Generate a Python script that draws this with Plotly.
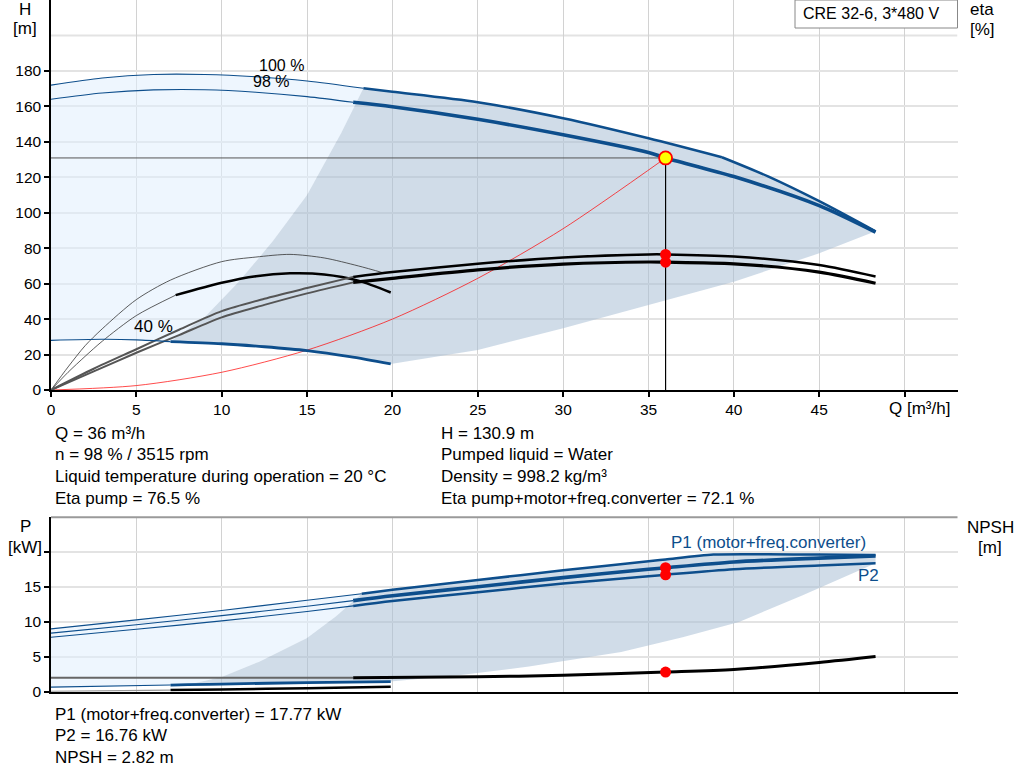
import plotly.graph_objects as go

# ---- data ----
# head curves [m]
q_h100 = [0, 3, 6, 9, 12, 15, 18.3, 20, 25, 30, 35, 39.3, 42, 45, 48.3]
h_h100 = [172, 176, 178, 178, 176.7, 174.3, 170.2, 168.2, 162.3, 153.3, 142, 131.3, 120.5, 106.5, 89.5]
q_h98 = [0, 3, 6, 9, 12, 15, 17.7, 20, 25, 30, 35, 36, 40, 45, 48.3]
h_h98 = [164, 167.5, 169.3, 169.4, 168, 165.5, 162.3, 159.8, 152.7, 144, 134, 130.9, 120.4, 104, 89]
q_h40 = [0, 3, 5, 7, 10, 12.5, 15, 17.5, 19.9]
h_h40 = [28, 28.6, 28.3, 27.3, 26.1, 24.4, 22.2, 18.8, 14.7]

# efficiency curves [%]
q_eta = [0, 2.5, 5, 7.5, 10, 12.5, 15, 17.7, 20, 25, 30, 35, 36, 40, 45, 48.3]
eta_pump98 = [0, 12, 23, 34, 44.5, 51.5, 57.5, 63.8, 66.5, 71.2, 74.8, 76.5, 76.5, 75.3, 70.5, 64]
eta_tot98 = [0, 10.5, 21, 31, 41, 48, 54.5, 60.7, 63, 67.8, 71, 72.2, 72.1, 71.2, 66.5, 60.2]
q_eta40p = [0, 1, 2, 3, 5, 7, 10, 12, 14, 16, 18, 19.5]
eta_pump40 = [0, 13, 25, 34.5, 51, 62, 72.4, 75, 76.5, 74.5, 70, 66]
q_eta40t = [0, 1, 2, 3, 5, 7.3, 10, 12, 14, 16, 18, 19.9]
eta_tot40 = [0, 10, 19, 27.5, 42, 53.5, 60.5, 64.2, 65.8, 65.2, 61.7, 55]

# system curve through duty point
q_sys = [0, 5, 10, 15, 20, 25, 30, 36]
h_sys = [0, 2.5, 10, 22.5, 40, 63, 91, 130.9]

# operating range boundaries (head chart)
q_left = [7, 9, 11, 13, 15, 17, 18.3]
h_left = [27.3, 41, 61, 84, 110, 145, 170.2]
q_low = [19.9, 25, 30, 35, 40, 45, 48.3]
h_low = [14.7, 22.6, 34.8, 48, 61.1, 77.1, 89.5]

# power curves [kW]
q_p100 = [0, 5, 10, 15, 18.2, 20, 25, 30, 35, 36, 38.8, 42, 45, 48.3]
p1_100 = [9.0, 10.3, 11.65, 13.1, 14.05, 14.6, 16.0, 17.4, 18.7, 18.95, 19.65, 19.7, 19.65, 19.6]
q_p98 = [0, 5, 10, 15, 17.7, 20, 25, 30, 35, 36, 40, 45, 48.3]
p1_98 = [8.4, 9.6, 10.9, 12.25, 13.05, 13.75, 15.05, 16.35, 17.55, 17.77, 18.6, 19.15, 19.45]
p2_98 = [7.8, 8.95, 10.15, 11.5, 12.3, 13.0, 14.25, 15.5, 16.55, 16.76, 17.55, 18.1, 18.4]
q_p40 = [0, 7, 8, 10, 15, 19.9]
p_40 = [0.65, 0.95, 1.0, 1.1, 1.3, 1.45]

# NPSH [m]
q_npsh = [0, 17.7, 25, 30, 36, 40, 45, 48.3]
npsh = [2.0, 2.0, 2.15, 2.35, 2.82, 3.2, 4.2, 5.05]
q_npsh40 = [0, 7, 10, 15, 19.9]
npsh40 = [0.05, 0.24, 0.33, 0.5, 0.72]

# operating range boundaries (power chart)
q_pleft = [8, 10, 12.2, 15, 16.7, 18.2]
p_left = [1.0, 2.1, 4.3, 7.7, 10.8, 14.05]
q_plow = [19.9, 24, 28, 33.4, 37, 40.3, 44, 48.3]
p_low = [1.45, 2.4, 3.6, 5.7, 7.8, 10.0, 13.8, 18.4]

# duty point
q_op = 36
h_op = 130.9
eta_op = [76.5, 72.1]
p_op = [17.77, 16.76]
npsh_op = 2.82

info_left = ["Q = 36 m³/h", "n = 98 % / 3515 rpm",
             "Liquid temperature during operation = 20 °C", "Eta pump = 76.5 %"]
info_right = ["H = 130.9 m", "Pumped liquid = Water",
              "Density = 998.2 kg/m³", "Eta pump+motor+freq.converter = 72.1 %"]
info_bottom = ["P1 (motor+freq.converter) = 17.77 kW", "P2 = 16.76 kW", "NPSH = 2.82 m"]

BLUE = "#0d4e8c"
LIGHT = "rgba(224,239,253,0.55)"
GREY = "rgba(170,191,213,0.55)"
FONT = "Liberation Sans, Arial, sans-serif"
TXT = 17
W, H = 1024, 781
X0, X1 = 51 / W, 957.5 / W
XMAX = 53.1


def part(q, v, lo, hi):
    qq, vv = [], []
    for a, b in zip(q, v):
        if lo <= a <= hi:
            qq.append(a)
            vv.append(b)
    return qq, vv


def rev(lst):
    return list(reversed(lst))


fig = go.Figure()


def line(q, v, color, width, xa="x", ya="y", shape="spline"):
    fig.add_trace(go.Scatter(x=q, y=v, mode="lines", xaxis=xa, yaxis=ya,
                             line=dict(color=color, width=width, shape=shape, smoothing=0.8),
                             hoverinfo="skip", showlegend=False))


def area(q, v, color, xa="x", ya="y"):
    fig.add_trace(go.Scatter(x=q, y=v, mode="lines", fill="toself", fillcolor=color,
                             line=dict(width=0), xaxis=xa, yaxis=ya,
                             hoverinfo="skip", showlegend=False))


# ---- head chart ----
a_q, a_h = part(q_h100, h_h100, 0, 18.3)
b_q, b_h = part(q_h40, h_h40, 0, 7)
area(a_q + rev(q_left) + rev(b_q), a_h + rev(h_left) + rev(b_h), LIGHT)
c_q, c_h = part(q_h100, h_h100, 18.3, 50)
d_q, d_h = part(q_h40, h_h40, 7, 20)
area(q_left + c_q + rev(q_low) + rev(d_q), h_left + c_h + rev(h_low) + rev(d_h), GREY)

line([0, q_op], [h_op, h_op], "#555555", 1, shape="linear")
line([q_op, q_op], [0, h_op], "black", 1.2, shape="linear")
line(q_sys, h_sys, "rgba(255,0,0,0.7)", 1)

line(*part(q_eta40p, eta_pump40, 0, 20), "#333333", 0.8)
line(*part(q_eta40t, eta_tot40, 0, 7.3), "#333333", 0.8)
line(*part(q_eta40t, eta_tot40, 7.3, 20), "black", 2.5)
line(*part(q_eta, eta_pump98, 0, 17.7), "#555555", 2)
line(*part(q_eta, eta_tot98, 0, 17.7), "#555555", 2)
line(*part(q_eta, eta_pump98, 17.7, 50), "black", 2.5)
line(*part(q_eta, eta_tot98, 17.7, 50), "black", 3.2)

line(*part(q_h100, h_h100, 0, 18.3), BLUE, 1.1)
line(*part(q_h100, h_h100, 18.3, 39.3), BLUE, 2.5)
line(*part(q_h100, h_h100, 39.3, 50), BLUE, 2.5)
line(*part(q_h98, h_h98, 0, 17.7), BLUE, 1.1)
line(*part(q_h98, h_h98, 17.7, 50), BLUE, 3.6)
line(*part(q_h40, h_h40, 0, 7), BLUE, 1.1)
line(*part(q_h40, h_h40, 7, 20), BLUE, 2.8)

fig.add_trace(go.Scatter(x=[q_op] * len(eta_op), y=eta_op, mode="markers",
                         marker=dict(color="red", size=11), hoverinfo="skip", showlegend=False))
fig.add_trace(go.Scatter(x=[q_op], y=[h_op], mode="markers",
                         marker=dict(color="yellow", size=13, line=dict(color="red", width=1.8)),
                         hoverinfo="skip", showlegend=False))

# ---- power / NPSH chart ----
a_q, a_p = part(q_p100, p1_100, 0, 18.2)
b_q, b_p = part(q_p40, p_40, 0, 8)
area(a_q + rev(q_pleft) + rev(b_q), a_p + rev(p_left) + rev(b_p), LIGHT, "x2", "y3")
c_q, c_p = part(q_p100, p1_100, 18.2, 50)
d_q, d_p = part(q_p40, p_40, 8, 20)
area(q_pleft + c_q + rev(q_plow) + rev(d_q), p_left + c_p + rev(p_low) + rev(d_p), GREY, "x2", "y3")

line(*part(q_npsh, npsh, 0, 17.7), "#666666", 1.8, "x2", "y3")
line(*part(q_npsh, npsh, 17.7, 50), "black", 3, "x2", "y3")
line(*part(q_npsh40, npsh40, 0, 7), "#999999", 1.2, "x2", "y3")
line(*part(q_npsh40, npsh40, 7, 20), "black", 2.5, "x2", "y3")
line(*part(q_p40, p_40, 0, 7), BLUE, 1.1, "x2", "y3")
line(*part(q_p40, p_40, 7, 20), BLUE, 2.8, "x2", "y3")

line(*part(q_p100, p1_100, 0, 18.2), BLUE, 1.1, "x2", "y3")
line(*part(q_p100, p1_100, 18.2, 50), BLUE, 2.5, "x2", "y3")
line(*part(q_p98, p1_98, 0, 17.7), BLUE, 1.1, "x2", "y3")
line(*part(q_p98, p1_98, 17.7, 50), BLUE, 3.6, "x2", "y3")
line(*part(q_p98, p2_98, 0, 17.7), BLUE, 1.1, "x2", "y3")
line(*part(q_p98, p2_98, 17.7, 50), BLUE, 2.5, "x2", "y3")

fig.add_trace(go.Scatter(x=[q_op] * 3, y=p_op + [npsh_op], mode="markers", xaxis="x2", yaxis="y3",
                         marker=dict(color="red", size=11), hoverinfo="skip", showlegend=False))

# ---- axes ----
tick_font = dict(family=FONT, size=15.5, color="black")
ax_common = dict(showline=True, linecolor="black", linewidth=1.5, ticks="outside",
                 tickcolor="black", tickwidth=1.5, ticklen=5, zeroline=False,
                 tickfont=tick_font, fixedrange=True, automargin=False)
q_ticks = list(range(0, 55, 5))

top_dom = [1 - 390 / H, 1]
bot_dom = [1 - 691.7 / H, 1 - 517.3 / H]

fig.update_layout(
    width=W, height=H, margin=dict(l=0, r=0, t=0, b=0, autoexpand=False),
    paper_bgcolor="white", plot_bgcolor="white", showlegend=False,
    font=dict(family=FONT, size=TXT, color="black"),
    xaxis=dict(domain=[X0, X1], range=[0, XMAX], anchor="y", tickvals=q_ticks,
               ticktext=[str(v) for v in q_ticks[:-1]] + [""],
               showgrid=True, gridcolor="#d2d2d2", gridwidth=1, **ax_common),
    yaxis=dict(domain=top_dom, range=[0, 220], anchor="x", tickvals=list(range(0, 181, 20)),
               showgrid=True, gridcolor="#e3e3e3", gridwidth=2, **ax_common),
    yaxis2=dict(overlaying="y", side="right", anchor="x", range=[0, 220],
                tickvals=list(range(0, 101, 20)), showgrid=False, **ax_common),
    xaxis2=dict(domain=[X0, X1], range=[0, XMAX], anchor="y3", tickvals=q_ticks,
                showticklabels=False, showgrid=True, gridcolor="#d2d2d2", gridwidth=1,
                showline=True, linecolor="black", linewidth=1.5, zeroline=False, ticks="",
                fixedrange=True, automargin=False),
    yaxis3=dict(domain=bot_dom, range=[0, 25], anchor="x2", tickvals=[0, 5, 10, 15, 20],
                ticktext=["0", "5", "10", "15", ""], showgrid=True, gridcolor="#e3e3e3",
                gridwidth=2, **ax_common),
    yaxis4=dict(overlaying="y3", side="right", anchor="x2", range=[0, 25],
                tickvals=[0, 5, 10, 15, 20], ticktext=["0", "5", "10", "15", ""],
                showgrid=False, **ax_common),
)

shapes = [
    dict(type="line", xref="x", yref="y", x0=0, x1=XMAX, y0=200, y1=200,
         line=dict(color="#e3e3e3", width=2), layer="below"),
    dict(type="line", xref="paper", yref="paper", x0=X0, x1=X1, y0=bot_dom[1], y1=bot_dom[1],
         line=dict(color="#9a9a9a", width=2)),
    dict(type="rect", xref="paper", yref="paper", x0=795 / W, x1=X1, y0=1 - 28 / H, y1=1,
         line=dict(color="#888888", width=1), fillcolor="white"),
]
fig.update_layout(shapes=shapes)


def px_note(text, x, y, anchor="center", size=TXT, color="black"):
    fig.add_annotation(text=text, xref="paper", yref="paper", x=x / W, y=1 - y / H,
                       xanchor=anchor, yanchor="middle", showarrow=False,
                       font=dict(family=FONT, size=size, color=color))


px_note("CRE 32-6, 3*480 V", 801, 14, "left", 16)
px_note("H", 25, 9)
px_note("[m]", 25, 28)
px_note("eta", 982, 10)
px_note("[%]", 982, 29)
px_note("P", 25, 526)
px_note("[kW]", 25, 547)
px_note("NPSH", 990, 527)
px_note("[m]", 990, 547)
px_note("Q [m³/h]", 887, 408, "left")

for i, t in enumerate(info_left):
    px_note(t, 53, 433 + i * 21.7, "left")
for i, t in enumerate(info_right):
    px_note(t, 439, 433 + i * 21.7, "left")
for i, t in enumerate(info_bottom):
    px_note(t, 53, 714 + i * 21.5, "left")


def data_note(text, x, y, xa="x", ya="y", color="black", anchor="center", size=TXT):
    fig.add_annotation(text=text, xref=xa, yref=ya, x=x, y=y, xanchor=anchor,
                       yanchor="middle", showarrow=False,
                       font=dict(family=FONT, size=size, color=color))


data_note("100 %", 13.5, 183, size=16)
data_note("98 %", 12.9, 173.8, size=16)
data_note("40 %", 6.0, 36)
data_note("P1 (motor+freq.converter)", 36.2, 21.4, "x2", "y3", BLUE, "left")
data_note("P2", 47.9, 16.7, "x2", "y3", BLUE)

# the page body has a default 8px margin; drop it so the figure sits at the corner
fig.write_html("out.html", config={"displayModeBar": False},
               post_script="document.body.style.margin='0px';")
